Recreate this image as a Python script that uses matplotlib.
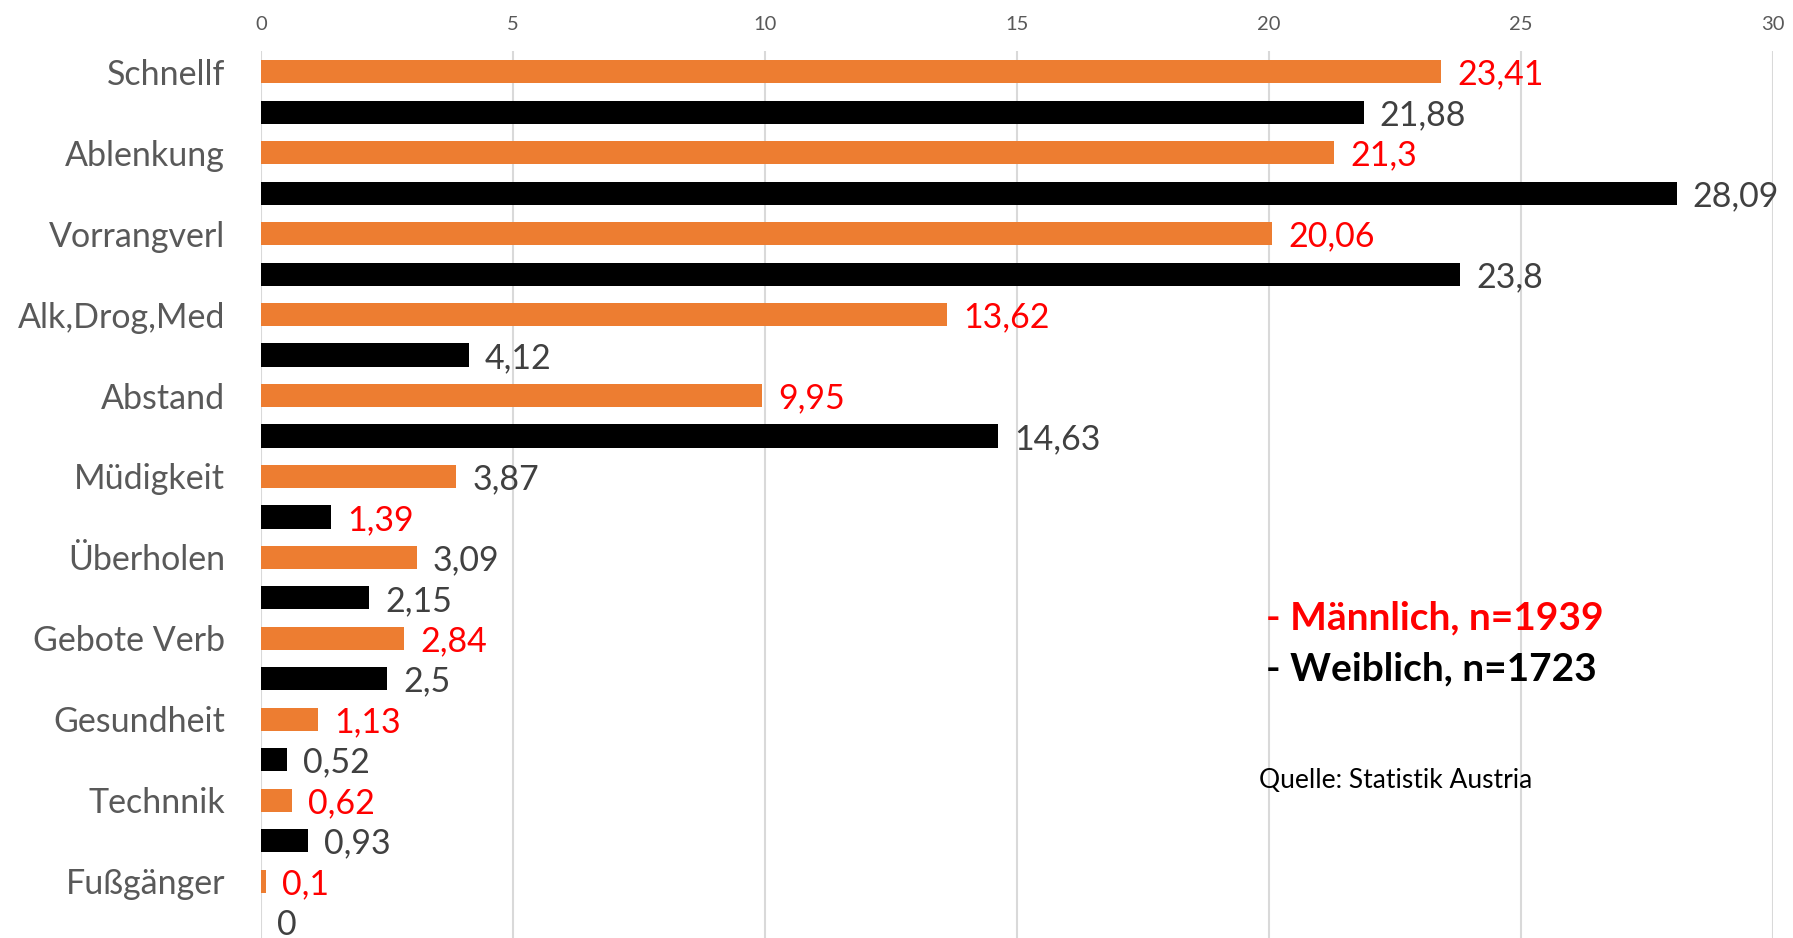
import matplotlib
matplotlib.use("Agg")
import matplotlib.pyplot as plt
import numpy as np

plt.rcParams['font.family'] = ['Lato', 'DejaVu Sans']

categories = ["Schnellf", "Ablenkung", "Vorrangverl", "Alk,Drog,Med", "Abstand",
              "Müdigkeit", "Überholen", "Gebote Verb", "Gesundheit", "Technnik", "Fußgänger"]
maennlich = [23.41, 21.3, 20.06, 13.62, 9.95, 3.87, 3.09, 2.84, 1.13, 0.62, 0.1]
weiblich = [21.88, 28.09, 23.8, 4.12, 14.63, 1.39, 2.15, 2.5, 0.52, 0.93, 0.0]
maennlich_labels = ["23,41", "21,3", "20,06", "13,62", "9,95", "3,87", "3,09", "2,84", "1,13", "0,62", "0,1"]
weiblich_labels = ["21,88", "28,09", "23,8", "4,12", "14,63", "1,39", "2,15", "2,5", "0,52", "0,93", "0"]
# True = red label, False = grey label
maennlich_red = [True, True, True, True, True, False, False, True, True, True, True]
weiblich_red = [False, False, False, False, False, True, False, False, False, False, False]
xticks = [0, 5, 10, 15, 20, 25, 30]

ORANGE = "#ED7D31"
RED = "#FF0000"
GREY = "#404040"

fig = plt.figure(figsize=(17.93, 9.38), dpi=100)
ax = fig.add_axes([0.1456, 0.0, 0.9888 - 0.1456, 1 - 51 / 938])

n = len(categories)
pos_m = np.arange(n) * 2
pos_w = pos_m + 1
h = 0.57

ax.barh(pos_m, maennlich, height=h, color=ORANGE, zorder=3)
ax.barh(pos_w, weiblich, height=h, color="black", zorder=3)

off = 0.32
dy = 0.07
for p, v, lab, r in zip(pos_m, maennlich, maennlich_labels, maennlich_red):
    ax.text(v + off, p + dy, lab, va="center", ha="left", fontsize=24.5,
            color=RED if r else GREY)
for p, v, lab, r in zip(pos_w, weiblich, weiblich_labels, weiblich_red):
    ax.text(v + off, p + dy, lab, va="center", ha="left", fontsize=24.5,
            color=RED if r else GREY)

ax.set_xlim(0, 30)
ax.set_ylim(21.4, -0.51)
ax.set_xticks(xticks)
ax.set_xticklabels([str(t) for t in xticks])
ax.xaxis.tick_top()
ax.tick_params(axis="x", length=0, pad=13, labelsize=14.5, labelcolor="#595959")
ax.set_yticks(pos_m)
ax.set_yticklabels(categories)
ax.tick_params(axis="y", length=0, pad=26, labelsize=24.5, labelcolor="#595959")
ax.grid(axis="x", color="#D9D9D9", linewidth=1.5, zorder=0)
for s in ax.spines.values():
    s.set_visible(False)

fig.text(1266 / 1793, 1 - 618 / 938, "- Männlich, n=1939", color=RED, fontsize=28,
         fontweight="bold", va="center", ha="left")
fig.text(1266 / 1793, 1 - 669 / 938, "- Weiblich, n=1723", color="black", fontsize=28,
         fontweight="bold", va="center", ha="left")
fig.text(1259 / 1793, 1 - 780 / 938, "Quelle: Statistik Austria", color="black", fontsize=19,
         va="center", ha="left")

fig.savefig("out.png", dpi=100)
